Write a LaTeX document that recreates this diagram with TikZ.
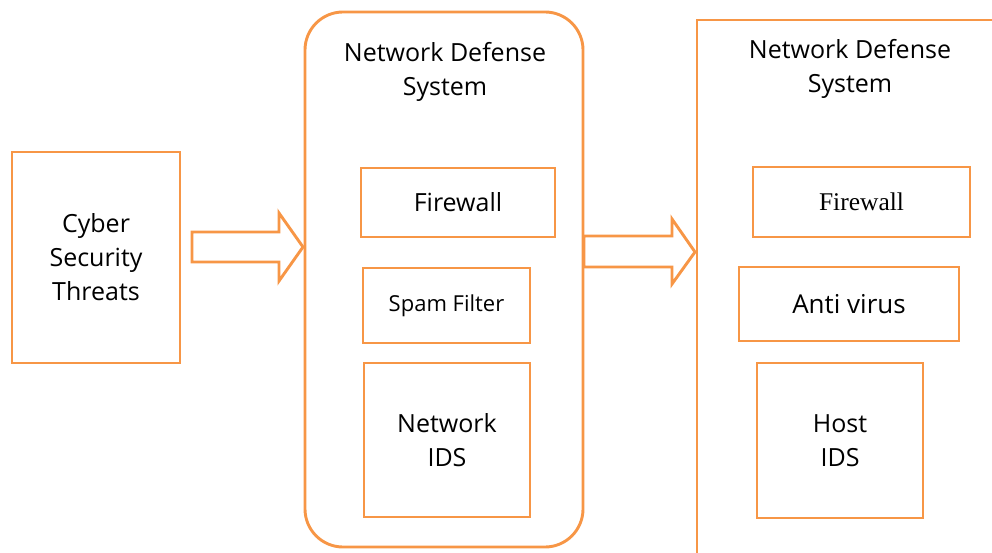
\documentclass[tikz,border=0pt]{standalone}
\usepackage{fontspec}
\setmainfont{Open Sans}
\newfontfamily\serifface{Liberation Serif}
\definecolor{accentorange}{RGB}{247,150,70}

\tikzset{
  frame/.style={draw=accentorange, line width=2.9pt},
  box/.style={frame, rectangle, inner sep=0pt, outer sep=0pt, align=center,
    text=black, font=\fontsize{25pt}{34pt}\selectfont},
  bigbox/.style={frame, rounded corners=38pt, inner sep=0pt, outer sep=0pt},
  titletext/.style={align=center, inner sep=0pt, text=black,
    font=\fontsize{25pt}{34pt}\selectfont},
  blockarrow/.style={frame, line join=miter, fill=white},
}

\begin{document}
\begin{tikzpicture}[x=1pt, y=-1pt]
  \useasboundingbox (0,0) rectangle (992,553);

  % source of threats
  \node[box, minimum width=168pt, minimum height=211pt] (threats) at (96,257.5)
    {Cyber\\Security\\Threats};

  % network level defense (rounded container)
  \node[bigbox, minimum width=278pt, minimum height=535pt] (nds) at (444,279.5) {};
  \node[titletext] (ndstitle) at (445,71.5) {Network Defense\\System};
  \node[box, minimum width=194pt, minimum height=69pt] (fw1) at (458,202.5) {Firewall};
  \node[box, minimum width=167pt, minimum height=75pt,
        font=\fontsize{22pt}{30pt}\selectfont] (spam) at (446.5,305.5) {Spam Filter};
  \node[box, minimum width=166pt, minimum height=154pt] (nids) at (447,440) {Network\\IDS};

  % host level defense (open frame running off the page)
  \coordinate (hdsNE) at (1000,20);
  \coordinate (hdsNW) at (697,20);
  \coordinate (hdsSW) at (697,560);
  \draw[frame, line join=miter] (hdsNE) -- (hdsNW) -- (hdsSW);
  \node[titletext] (hdstitle) at (850,69) {Network Defense\\System};
  \node[box, minimum width=217pt, minimum height=70pt,
        font=\serifface\fontsize{25.5pt}{30pt}\selectfont] (fw2) at (861.5,202) {Firewall};
  \node[box, minimum width=220pt, minimum height=74pt,
        font=\fontsize{26pt}{34pt}\selectfont] (av) at (849,304) {Anti virus};
  \node[box, minimum width=166pt, minimum height=155pt] (hids) at (840,440.5) {Host\\IDS};

  % block arrows between the stages
  \coordinate (tip1) at (303,247);
  \coordinate (tip2) at (695,252);
  \draw[blockarrow] (tip1) -- ++(-24,-34) -- ++(0,19) -- ++(-87,0) -- ++(0,30)
    -- ++(87,0) -- ++(0,19) -- cycle;
  \draw[blockarrow] (tip2) -- ++(-23,-33) -- ++(0,17) -- ++(-88,0) -- ++(0,31)
    -- ++(88,0) -- ++(0,17) -- cycle;
\end{tikzpicture}
\end{document}
